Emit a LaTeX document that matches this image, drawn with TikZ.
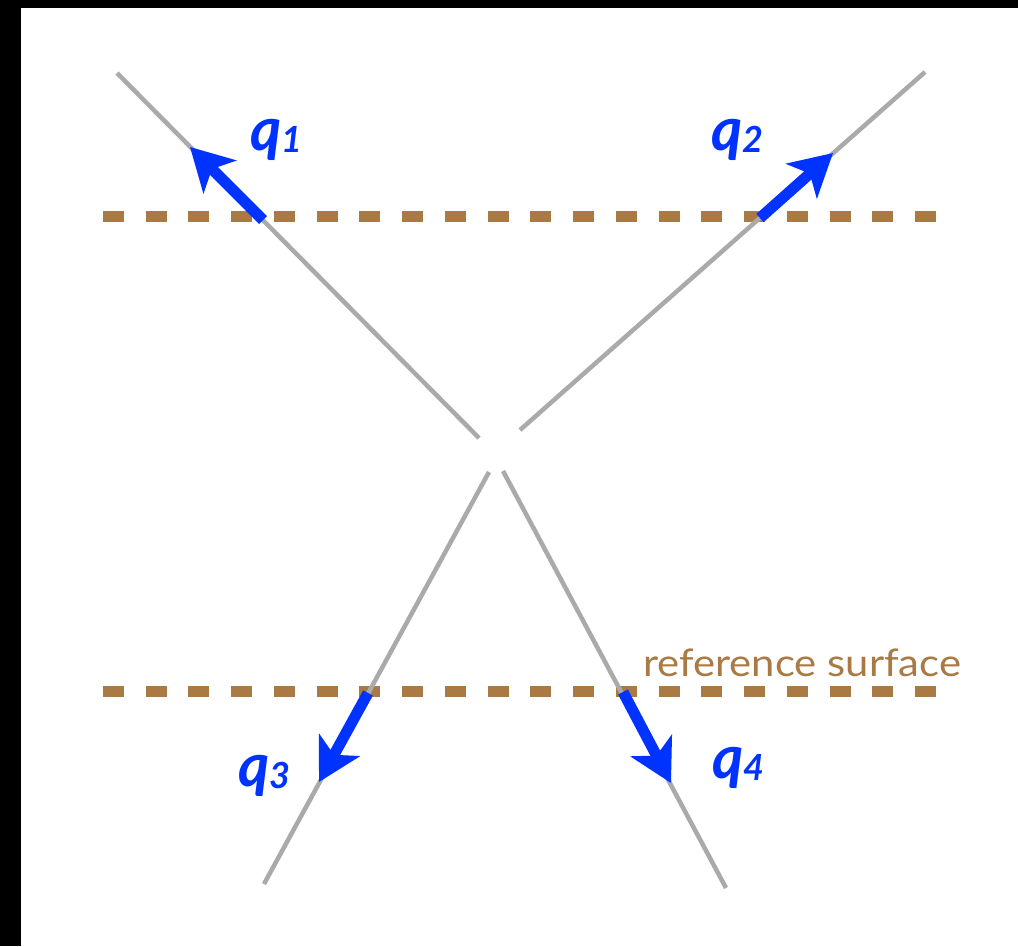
\documentclass[tikz,border=0pt]{standalone}
\usepackage{fontspec}
\setmainfont{Lato}
\setsansfont{Lato}
\usetikzlibrary{arrows.meta}
\definecolor{lgray}{HTML}{AAAAAA}
\definecolor{brownish}{HTML}{A97A43}
\definecolor{qblue}{HTML}{0033FF}
\tikzset{
  track/.style={draw=lgray, line width=4.5pt},
  surf/.style={draw=brownish, line width=11pt, dash pattern=on 21pt off 21.74pt},
  qarrow/.style={draw=qblue, line width=11pt, -{Stealth[length=42pt,width=46pt,inset=11pt]}},
  qlabel/.style={text=qblue, anchor=base west, inner sep=0pt, font=\fontsize{60}{60}\selectfont\bfseries\itshape},
}
\newcommand{\qsub}[1]{\raisebox{-2pt}{\fontsize{36}{36}\selectfont #1}}
\begin{document}
\begin{tikzpicture}[x=1pt,y=-1pt]
  \useasboundingbox (0,0) rectangle (1018,946);
  \fill[white] (0,0) rectangle (1018,946);
  \fill[black] (0,0) rectangle (21,946);
  \fill[black] (0,0) rectangle (1018,8);
  % track end points
  \coordinate (a1) at (117,73);   \coordinate (b1) at (479,438);
  \coordinate (a2) at (925,72);   \coordinate (b2) at (520,430);
  \coordinate (a3) at (489,472);  \coordinate (b3) at (264,884);
  \coordinate (a4) at (503,471);  \coordinate (b4) at (726,888);
  % surfaces
  \coordinate (s1l) at (103,216); \coordinate (s1r) at (936,216);
  \coordinate (s2l) at (103,691); \coordinate (s2r) at (936,691);
  \draw[surf] (s1l) -- (s1r);
  \draw[surf] (s2l) -- (s2r);
  % tracks
  \draw[track] (a1) -- (b1);
  \draw[track] (a2) -- (b2);
  \draw[track] (a3) -- (b3);
  \draw[track] (a4) -- (b4);
  % arrows
  \coordinate (t1) at (263,220); \coordinate (h1) at (190,147);
  \coordinate (t2) at (760,218); \coordinate (h2) at (833,153);
  \coordinate (t3) at (368,693); \coordinate (h3) at (319,782);
  \coordinate (t4) at (623,692); \coordinate (h4) at (671,783);
  \draw[qarrow] (t1) -- (h1);
  \draw[qarrow] (t2) -- (h2);
  \draw[qarrow] (t3) -- (h3);
  \draw[qarrow] (t4) -- (h4);
  % labels
  \node[qlabel] (q1) at (250,150) {q\qsub{1}};
  \node[qlabel] (q2) at (711,150) {q\qsub{2}};
  \node[qlabel] (q3) at (238,786) {q\qsub{3}};
  \node[qlabel] (q4) at (712,778) {q\qsub{4}};
  \node[text=brownish, anchor=base west, inner sep=0pt, xscale=1.1, font=\fontsize{38}{38}\selectfont] (ref) at (643,676) {reference surface};
\end{tikzpicture}
\end{document}
